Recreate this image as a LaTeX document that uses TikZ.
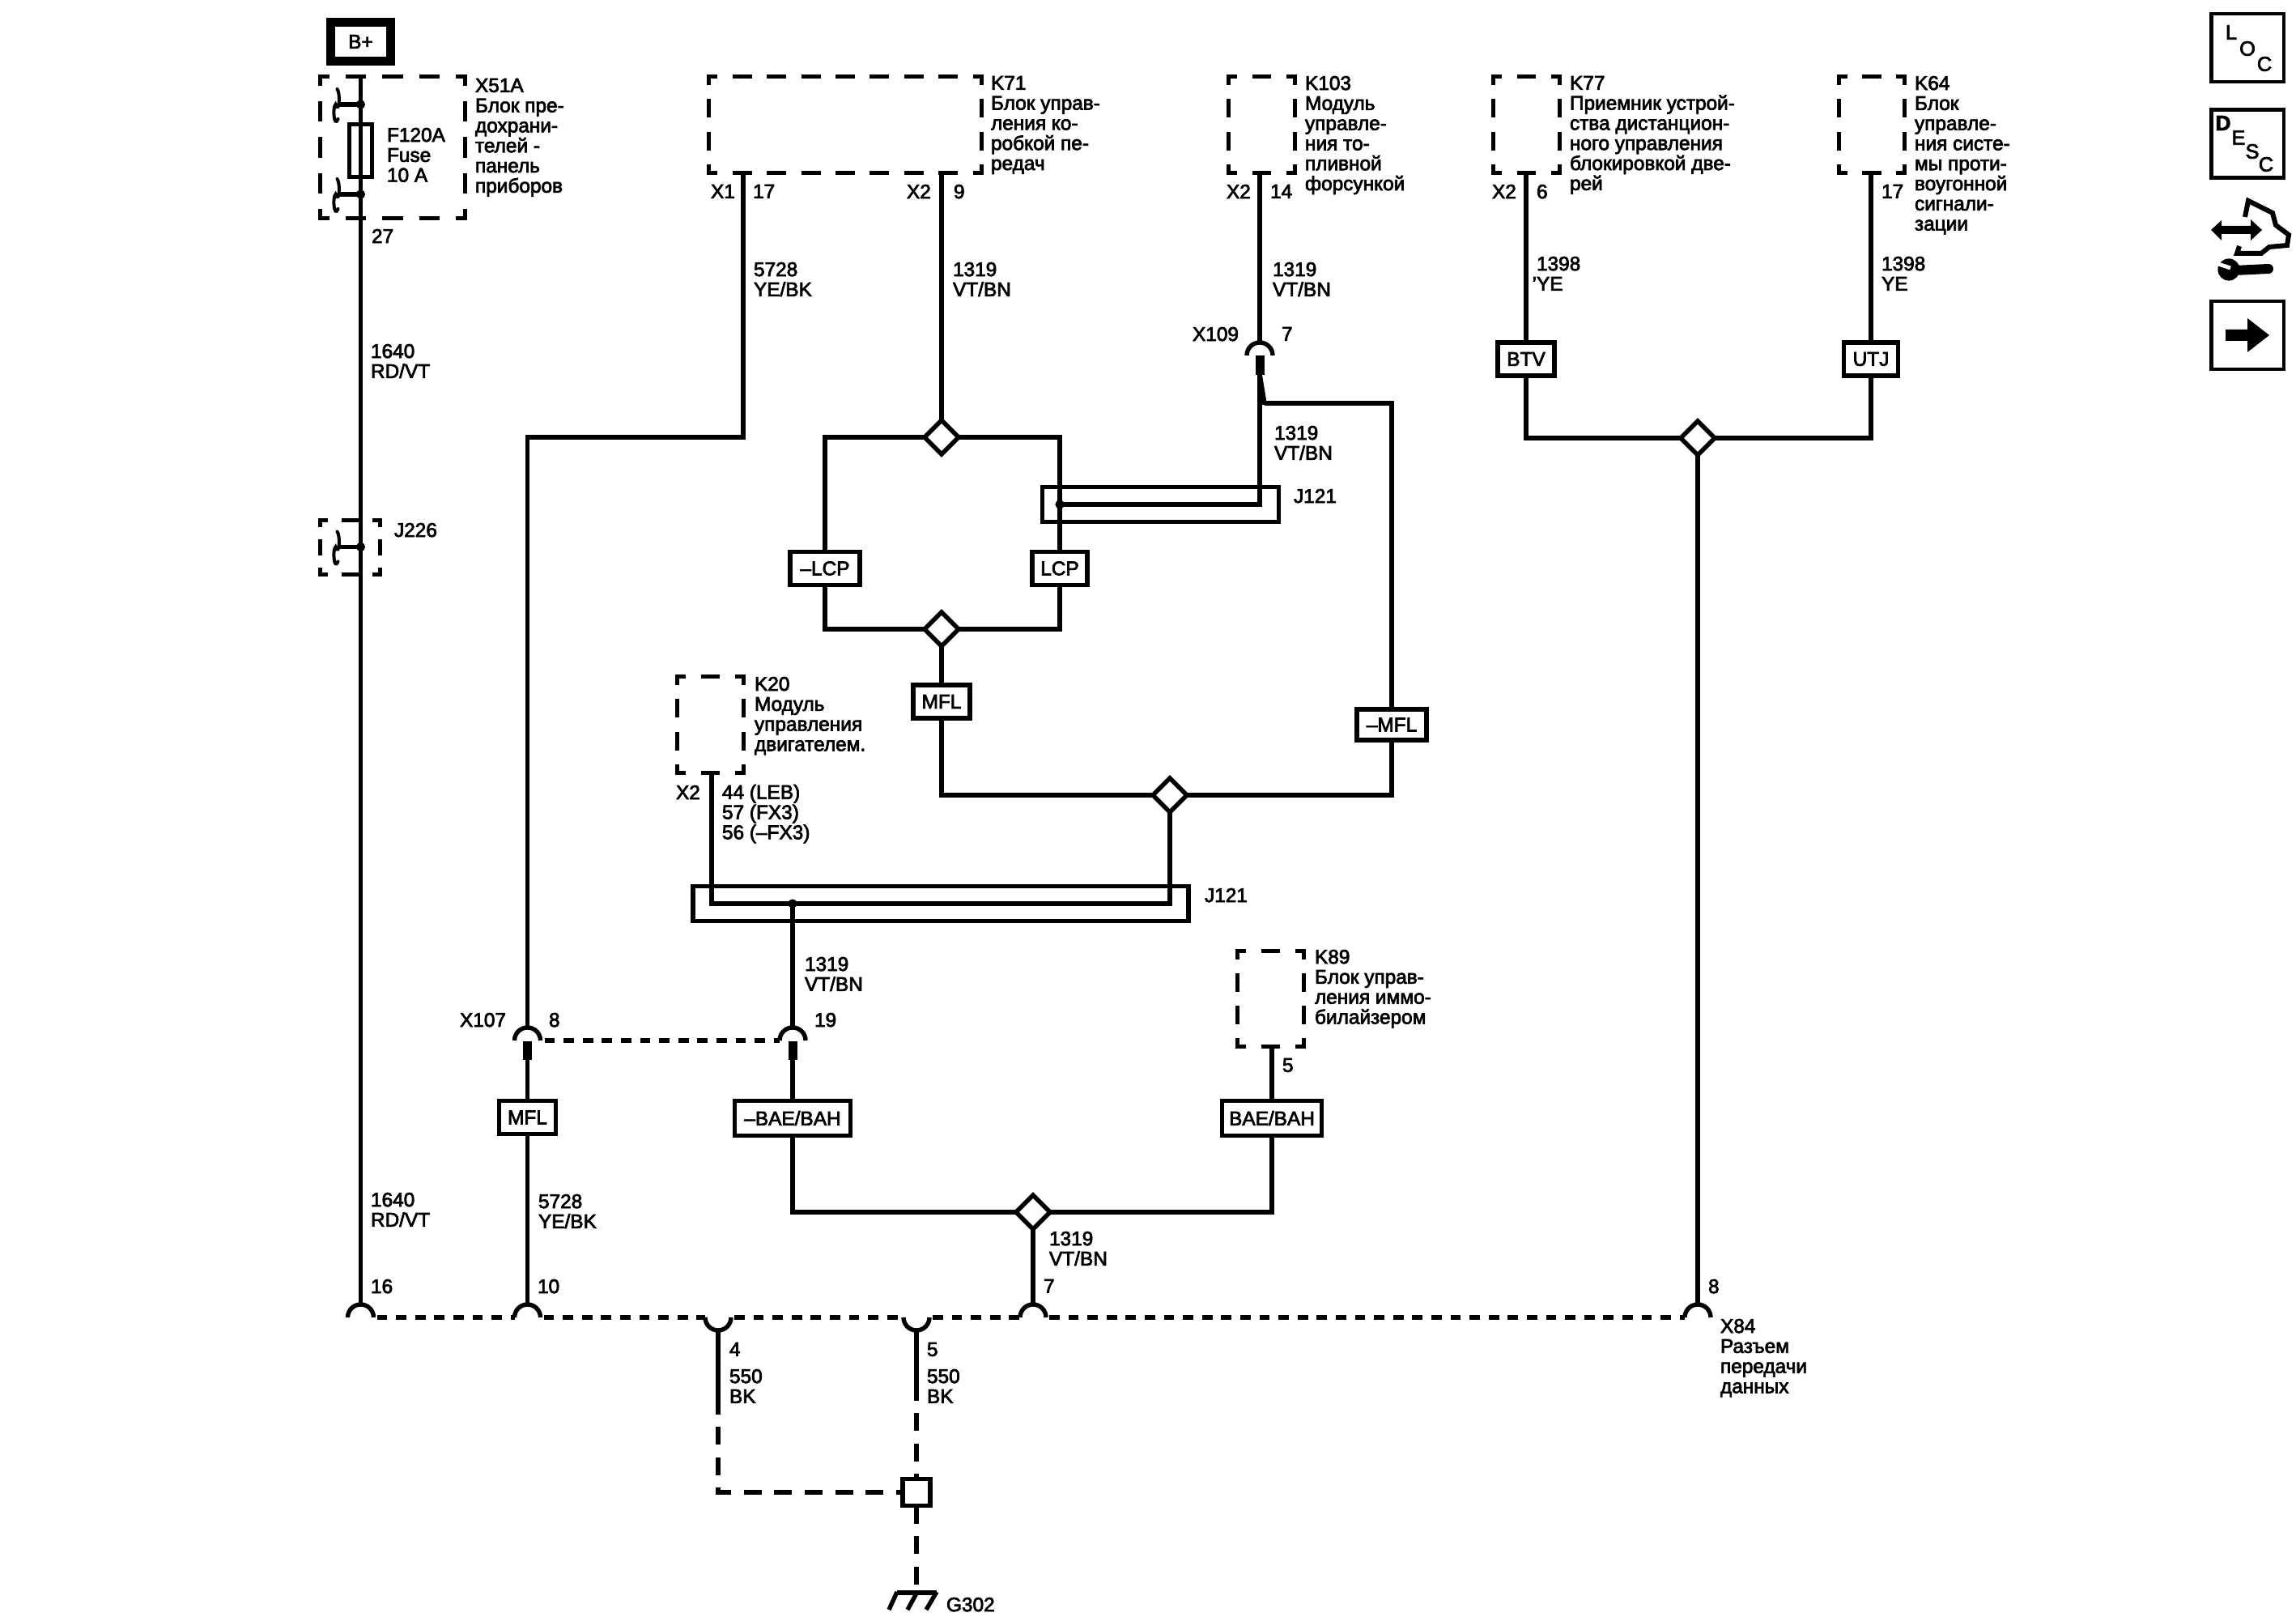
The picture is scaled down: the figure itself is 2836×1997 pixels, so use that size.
\documentclass[tikz,border=0pt]{standalone}
\usepackage{fontspec}
\setmainfont[FakeBold=3]{Liberation Sans}
\usetikzlibrary{shapes.geometric}
\newcommand{\fsz}{\fontsize{6.1}{6.2}\selectfont}
\tikzset{
  x=0.25pt,y=-0.25pt,
  wire/.style={line width=1.35pt,line cap=butt,line join=miter},
  dwire/.style={wire,dash pattern=on 5.5pt off 3.9pt},
  dbus/.style={wire,dash pattern=on 3.2pt off 2.7pt},
  txt/.style={anchor=north west,inner sep=0pt,outer sep=0pt,align=left,font=\fsz},
  lblbox/.style={draw,line width=1.35pt,fill=white,inner sep=0pt,outer sep=0pt,font=\fsz},
  splice/.style={draw,line width=1.35pt,fill=white,shape=diamond,aspect=1,inner sep=0pt,outer sep=0pt,minimum width=10.5pt,minimum height=10.5pt},
  bar/.style={draw,line width=1.35pt,inner sep=0pt,outer sep=0pt},
  jdot/.style={circle,fill=black,inner sep=0pt,outer sep=0pt,minimum size=2.8pt},
  icon/.style={draw,line width=1.15pt,inner sep=0pt,outer sep=0pt,minimum width=22.4pt,minimum height=21pt,fill=white},
  letter/.style={inner sep=0pt,outer sep=0pt,font=\fontsize{6.3}{6.4}\selectfont}
}
% one dashed side: x1 y1 x2 y2 length n
\newcommand{\dside}[6]{%
  \pgfmathsetmacro{\dd}{0.25*#5/(1.87+1.77*#6)}%
  \pgfmathsetmacro{\ggap}{0.77*\dd}%
  \pgfmathsetmacro{\pph}{0.45*\dd}%
  \draw[line width=1.35pt,line cap=butt,dash pattern=on \dd pt off \ggap pt,dash phase=\pph pt] (#1,#2) -- (#3,#4);}
% dashed box: x1 y1 x2 y2 nh nv (outer extents)
\newcommand{\dbox}[6]{%
  \pgfmathsetmacro{\LL}{#3-#1}\pgfmathsetmacro{\HH}{#4-#2}%
  \pgfmathsetmacro{\tp}{#2+2.5}\pgfmathsetmacro{\bt}{#4-2.5}%
  \pgfmathsetmacro{\lf}{#1+2.5}\pgfmathsetmacro{\rg}{#3-2.5}%
  \edef\LLx{\LL}\edef\HHx{\HH}\edef\tpx{\tp}\edef\btx{\bt}\edef\lfx{\lf}\edef\rgx{\rg}%
  \dside{#1}{\tpx}{#3}{\tpx}{\LLx}{#5}%
  \dside{#1}{\btx}{#3}{\btx}{\LLx}{#5}%
  \dside{\lfx}{#2}{\lfx}{#4}{\HHx}{#6}%
  \dside{\rgx}{#2}{\rgx}{#4}{\HHx}{#6}}
% connector arcs at a named coordinate
\newcommand{\arcup}[1]{\draw[wire] ([shift={(-16,0)}]#1) arc[start angle=180,end angle=0,radius=4pt];}
\newcommand{\arcdn}[1]{\draw[wire] ([shift={(-16,0)}]#1) arc[start angle=180,end angle=360,radius=4pt];}
% fuse block contact with dot at named coordinate
\newcommand{\contact}[1]{%
  \node[jdot] at (#1) {};
  \draw[wire] (#1) -- ++(-29,0);
  \draw[line width=1pt,line cap=round] ([shift={(-29,-19)}]#1) .. controls +(4,5) and +(5,12) .. ([shift={(-31,0)}]#1) .. controls +(-4,3) and +(-5,12) .. ([shift={(-28,18)}]#1);}
\begin{document}
\begin{tikzpicture}
\useasboundingbox (0,0) rectangle (2836,1997);
\fill[white] (0,0) rectangle (2836,1997);

% ---------- module boxes
\dbox{393}{92}{577}{272}{3}{3}
\dbox{873}{92}{1215}{216}{7}{2}
\dbox{1515}{92}{1602}{216}{1}{2}
\dbox{1842}{92}{1929}{216}{1}{2}
\dbox{2269}{92}{2355}{216}{1}{2}
\dbox{393}{640}{472}{712}{1}{1}
\dbox{834}{833}{921}{957}{1}{2}
\dbox{1526}{1172}{1613}{1295}{1}{2}

% ---------- named coordinates
\coordinate (xtop) at (445.5,95);
\coordinate (c16) at (445.5,1627);
\coordinate (c10) at (651.5,1627);
\coordinate (c4) at (887,1627);
\coordinate (c5) at (1132,1627);
\coordinate (c7) at (1276,1627);
\coordinate (c8) at (2097,1627);
\coordinate (c16t) at (445.5,1611);
\coordinate (c10t) at (651.5,1611);
\coordinate (c7t) at (1276,1611);
\coordinate (c8t) at (2097,1611);
\coordinate (c4b) at (887,1643);
\coordinate (c5b) at (1132,1643);
\coordinate (x107) at (651.5,1285);
\coordinate (x107t) at (651.5,1269);
\coordinate (x107b) at (651.5,1286);
\coordinate (x107e) at (651.5,1309);
\coordinate (x119) at (979,1285);
\coordinate (x119t) at (979,1269);
\coordinate (x119b) at (979,1286);
\coordinate (x119e) at (979,1309);
\coordinate (x109) at (1556,439);
\coordinate (x109t) at (1556,424);
\coordinate (x109b) at (1556,439);
\coordinate (x109e) at (1556,463);
\coordinate (k71a) at (918,216);
\coordinate (k71b) at (1163,216);
\coordinate (k103a) at (1556,216);
\coordinate (k77a) at (1885,216);
\coordinate (k64a) at (2311,216);
\coordinate (k20a) at (879,957);
\coordinate (k89a) at (1571,1295);
\coordinate (bendA) at (651.5,540);
\coordinate (bendB) at (918,540);
\coordinate (j121a) at (1309,623);
\coordinate (j121b) at (1556,623);
\coordinate (j121c) at (879,1116);
\coordinate (j121d) at (1445,1116);
\coordinate (j121e) at (979,1116);
\coordinate (mflbr) at (1562,498);
\coordinate (mflbc) at (1719,498);
\coordinate (gsq) at (1132,1843);
\coordinate (gnd) at (1132,1967);
\coordinate (gbend) at (887,1843);

% ---------- boxes and splices
\node[draw,line width=2.75pt,fill=white,inner sep=0pt,outer sep=0pt,minimum width=18.5pt,minimum height=12pt,font=\fsz] (bplus) at (445.5,51.5) {B+};
\node[bar,minimum width=7pt,minimum height=16.25pt] (fuse) at (445.5,186) {};
\node[bar,minimum width=73pt,minimum height=10.75pt] (j121u) at (1433.5,623) {};
\node[bar,minimum width=153pt,minimum height=10.75pt] (j121l) at (1162,1116) {};
\node[splice] (d1) at (1163,540) {};
\node[splice] (d2) at (1163,777) {};
\node[splice] (d3) at (1445,982) {};
\node[splice] (d4) at (1276,1497) {};
\node[splice] (d5) at (2097,541) {};
\node[lblbox,minimum width=21.5pt,minimum height=10.25pt] (lcpm) at (1019,702) {–LCP};
\node[lblbox,minimum width=17pt,minimum height=10.25pt] (lcp) at (1309,702) {LCP};
\node[lblbox,minimum width=17.5pt,minimum height=10.25pt] (mflu) at (1163,866.5) {MFL};
\node[lblbox,minimum width=21.5pt,minimum height=9.5pt] (mfln) at (1719,895) {–MFL};
\node[lblbox,minimum width=17.5pt,minimum height=10.25pt] (mfll) at (651.5,1380) {MFL};
\node[lblbox,minimum width=35.75pt,minimum height=10.75pt] (baem) at (979,1381) {–BAE/BAH};
\node[lblbox,minimum width=30.75pt,minimum height=10.75pt] (bae) at (1571,1381) {BAE/BAH};
\node[lblbox,minimum width=17.5pt,minimum height=10.25pt] (btv) at (1885,443.5) {BTV};
\node[lblbox,minimum width=16.75pt,minimum height=10.25pt] (utj) at (2311,443.5) {UTJ};
\node[bar,fill=white,minimum width=8.5pt,minimum height=8.25pt] (gbox) at (gsq) {};

% ---------- wires
\draw[wire] (xtop) -- (fuse.north);
\draw[wire] (fuse.north) -- (c16t);
\draw[wire] (k71a) -- (bendB) -- (bendA) -- (x107t);
\draw[wire] (k71b) -- (d1.north);
\draw[wire] (d1.west) -| (lcpm.north);
\draw[wire] (d1.east) -| (lcp.north);
\draw[wire] (lcpm.south) |- (d2.west);
\draw[wire] (lcp.south) |- (d2.east);
\draw[wire] (d2.south) -- (mflu.north);
\draw[wire] (mflu.south) |- (d3.west);
\draw[wire] (d3.east) -| (mfln.south);
\draw[wire] (d3.south) -- (j121d) -- (j121c) -- (k20a);
\draw[wire] (mfln.north) -- (mflbc) -- (mflbr);
\draw[wire] (k103a) -- (x109t);
\draw[wire] (x109e) -- (j121b) -- (j121a);
\draw[wire] (j121e) -- (x119t);
\draw[wire] (x107e) -- (mfll.north);
\draw[wire] (mfll.south) -- (c10t);
\draw[wire] (x119e) -- (baem.north);
\draw[wire] (baem.south) |- (d4.west);
\draw[wire] (d4.east) -| (bae.south);
\draw[wire] (bae.north) -- (k89a);
\draw[wire] (d4.south) -- (c7t);
\draw[wire] (k77a) -- (btv.north);
\draw[wire] (k64a) -- (utj.north);
\draw[wire] (btv.south) |- (d5.west);
\draw[wire] (utj.south) |- (d5.east);
\draw[wire] (d5.south) -- (c8t);

% ---------- in-line connectors
\arcup{c16}\arcup{c10}\arcup{c7}\arcup{c8}
\arcdn{c4}\arcdn{c5}
\arcup{x107}\arcup{x119}\arcup{x109}
\draw[line width=2.75pt] (x107b) -- (x107e);
\draw[line width=2.75pt] (x119b) -- (x119e);
\draw[line width=2.75pt] (x109b) -- (x109e);
\fill (1553,463) -- (1559,463) -- (1565,500) -- (1555,500) -- cycle;
\draw[dbus] ([shift={(21,0)}]x107) -- ([shift={(-16,0)}]x119);
\draw[dbus] ([shift={(20,0)}]c16) -- ([shift={(-16,0)}]c10);
\draw[dbus] ([shift={(20,0)}]c10) -- ([shift={(-16,0)}]c4);
\draw[dbus] ([shift={(20,0)}]c4) -- ([shift={(-16,0)}]c5);
\draw[dbus] ([shift={(20,0)}]c5) -- ([shift={(-16,0)}]c7);
\draw[dbus] ([shift={(20,0)}]c7) -- ([shift={(-16,0)}]c8);

% ---------- ground
\draw[wire] (c4b) -- (887,1747);
\draw[wire] (c5b) -- (1132,1730);
\draw[dwire,dash phase=0pt] (887,1762) -- (gbend) -- (gbox.west);
\draw[dwire] (1132,1745) -- (gbox.north);
\draw[dwire] (gbox.south) -- (gnd);
\draw[wire] (1108,1967) -- (1157,1967);
\draw[wire] (1108,1966) -- (1098,1988);
\draw[wire] (1133,1966) -- (1121,1988);
\draw[wire] (1157,1966) -- (1144,1988);

% ---------- dots and contacts
\node[jdot] (dj1) at (j121a) {};
\node[jdot] (dj2) at (j121e) {};
\coordinate (ca) at (445.5,129);
\coordinate (cb) at (445.5,240);
\coordinate (cc) at (445.5,675.5);
\contact{ca}\contact{cb}\contact{cc}

% ---------- texts
\node[txt] (t1) at (587,97) {X51A\\Блок пре-\\дохрани-\\телей -\\панель\\приборов};
\node[txt] (t2) at (478,158) {F120A\\Fuse\\10 A};
\node[txt] (t3) at (459,283) {27};
\node[txt] (t4) at (458,425) {1640\\RD/VT};
\node[txt] (t5) at (487,646) {J226};
\node[txt] (t6) at (458,1473) {1640\\RD/VT};
\node[txt] (t7) at (458,1580) {16};
\node[txt] (t8) at (664,1580) {10};
\node[txt] (t9) at (1289,1580) {7};
\node[txt] (t10) at (2110,1580) {8};
\node[txt] (t11) at (2125,1629) {X84\\Разъем\\передачи\\данных};
\node[txt] (t12) at (901,1658) {4};
\node[txt] (t13) at (901,1691) {550\\BK};
\node[txt] (t14) at (1145,1658) {5};
\node[txt] (t15) at (1145,1691) {550\\BK};
\node[txt] (t16) at (1169,1973) {G302};
\node[txt] (t17) at (1224,94) {K71\\Блок управ-\\ления ко-\\робкой пе-\\редач};
\node[txt] (t18) at (1612,94) {K103\\Модуль\\управле-\\ния то-\\пливной\\форсункой};
\node[txt] (t19) at (1939,94) {K77\\Приемник устрой-\\ства дистанцион-\\ного управления\\блокировкой две-\\рей};
\node[txt] (t20) at (2365,94) {K64\\Блок\\управле-\\ния систе-\\мы проти-\\воугонной\\сигнали-\\зации};
\node[txt] (t21) at (878,228) {X1};
\node[txt] (t22) at (930,228) {17};
\node[txt] (t23) at (1120,228) {X2};
\node[txt] (t24) at (1178,228) {9};
\node[txt] (t25) at (1515,228) {X2};
\node[txt] (t26) at (1569,228) {14};
\node[txt] (t27) at (1843,228) {X2};
\node[txt] (t28) at (1898,228) {6};
\node[txt] (t29) at (2324,228) {17};
\node[txt] (t30) at (931,324) {5728\\YE/BK};
\node[txt] (t31) at (1177,324) {1319\\VT/BN};
\node[txt] (t32) at (1572,324) {1319\\VT/BN};
\node[txt] (t33) at (1898,317) {1398\\\llap{'}YE};
\node[txt] (t34) at (2324,317) {1398\\YE};
\node[txt] (t35) at (1473,404) {X109};
\node[txt] (t36) at (1583,404) {7};
\node[txt] (t37) at (1574,526) {1319\\VT/BN};
\node[txt] (t38) at (1598,604) {J121};
\node[txt] (t39) at (932,836) {K20\\Модуль\\управления\\двигателем.};
\node[txt] (t40) at (835,970) {X2};
\node[txt] (t41) at (892,969) {44 (LEB)\\57 (FX3)\\56 (–FX3)};
\node[txt] (t42) at (1488,1097) {J121};
\node[txt] (t43) at (994,1182) {1319\\VT/BN};
\node[txt] (t44) at (568,1251) {X107};
\node[txt] (t45) at (678,1251) {8};
\node[txt] (t46) at (1006,1251) {19};
\node[txt] (t47) at (665,1475) {5728\\YE/BK};
\node[txt] (t48) at (1624,1173) {K89\\Блок управ-\\ления иммо-\\билайзером};
\node[txt] (t49) at (1584,1307) {5};
\node[txt] (t50) at (1296,1521) {1319\\VT/BN};

% ---------- side icons
\node[icon] (loc) at (2776,59) {};
\node[letter] (l1) at (2756,40) {L};
\node[letter] (l2) at (2776,60) {O};
\node[letter] (l3) at (2797,79) {C};
\node[icon] (desc) at (2776,177.5) {};
\node[letter,font=\fontsize{6.5}{6.6}\selectfont\bfseries] (l4) at (2746,152) {D};
\node[letter] (l5) at (2765,170) {E};
\node[letter] (l6) at (2782,187) {S};
\node[letter] (l7) at (2799,203) {C};
\node[icon] (next) at (2776,414) {};
\fill (2749,407) -- (2776,407) -- (2776,393) -- (2803,414) -- (2776,435) -- (2776,421) -- (2749,421) -- cycle;
\fill (2731,284) -- (2744,272) -- (2744,279) -- (2780,279) -- (2780,271) -- (2794,284) -- (2780,297) -- (2780,289) -- (2744,289) -- (2744,297) -- cycle;
\draw[line width=1.5pt,line join=miter] (2773,268) -- (2777,248) -- (2807,263) -- (2811,278) -- (2827,290) -- (2825,303) -- (2803,305) -- (2793,313) -- (2763,313) -- (2766,304);
\draw[line width=3pt,line cap=round] (2760,334) -- (2802,332);
\fill (2753,333) circle[radius=3.4pt];
\draw[white,line width=1.2pt] (2740,326) -- (2755,331);
\end{tikzpicture}
\end{document}
